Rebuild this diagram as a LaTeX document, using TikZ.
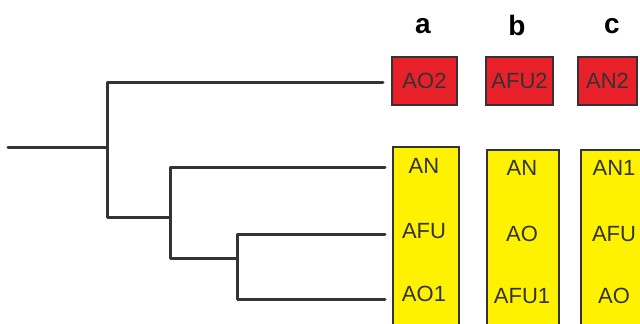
\documentclass[tikz,border=0pt]{standalone}
\usepackage{fontspec}
\setmainfont{Liberation Sans}
\definecolor{boxred}{HTML}{E8202A}
\definecolor{boxyel}{HTML}{FFF200}
\definecolor{ink}{HTML}{333333}
\begin{document}
\begin{tikzpicture}[x=1pt,y=-1pt,
  tree/.style={line width=3pt,draw=ink,line join=round,line cap=round},
  redbox/.style={draw=ink,line width=2.2pt,fill=boxred,inner sep=0pt,minimum height=48pt},
  yelbox/.style={draw=ink,line width=2.2pt,fill=boxyel,inner sep=0pt,anchor=north west},
  lbl/.style={font=\fontsize{22}{22}\selectfont,text=ink,inner sep=0pt},
  head/.style={font=\bfseries\fontsize{28}{28}\selectfont,inner sep=0pt}]
\useasboundingbox (0,0) rectangle (640,324);
% column headers
\node[head] (ha) at (423,26) {a};
\node[head] (hb) at (517,25) {b};
\node[head] (hc) at (612,26) {c};
% red boxes
\node[redbox,minimum width=65pt] (ra) at (424.5,81) {};
\node[redbox,minimum width=67pt] (rb) at (519.5,81) {};
\node[redbox,minimum width=59pt] (rc) at (607.5,81) {};
\node[lbl] (ta) at (ra.center) {AO2};
\node[lbl] (tb) at (rb.center) {AFU2};
\node[lbl] (tc) at (rc.center) {AN2};
% yellow boxes
\node[yelbox,minimum width=66pt,minimum height=200pt] (ya) at (392,146) {};
\node[yelbox,minimum width=72pt,minimum height=200pt] (yb) at (486,149) {};
\node[yelbox,minimum width=72pt,minimum height=200pt] (yc) at (580,149) {};
\node[lbl] (a1) at (424,166) {AN};
\node[lbl] (a2) at (424,231) {AFU};
\node[lbl] (a3) at (424,294) {AO1};
\node[lbl] (b1) at (522,168) {AN};
\node[lbl] (b2) at (522,234) {AO};
\node[lbl] (b3) at (522,296) {AFU1};
\node[lbl] (c1) at (614,168) {AN1};
\node[lbl] (c2) at (614,234) {AFU};
\node[lbl] (c3) at (614,296) {AO};
% tree
\coordinate (root) at (8,147);
\coordinate (n1t) at (107,82);
\coordinate (n1b) at (107,217);
\coordinate (n2t) at (170,167);
\coordinate (n2b) at (170,258);
\coordinate (n3t) at (237,234);
\coordinate (n3b) at (237,299);
\coordinate (l1) at (383,82);
\coordinate (l2) at (385,167);
\coordinate (l3) at (385,234);
\coordinate (l4) at (385,299);
\draw[tree] (root) -- (root -| n1t);
\draw[tree] (l1) -- (n1t) -- (n1b) -- (n1b -| n2t);
\draw[tree] (l2) -- (n2t) -- (n2b) -- (n2b -| n3t);
\draw[tree] (l3) -- (n3t) -- (n3b) -- (l4);
\end{tikzpicture}
\end{document}
